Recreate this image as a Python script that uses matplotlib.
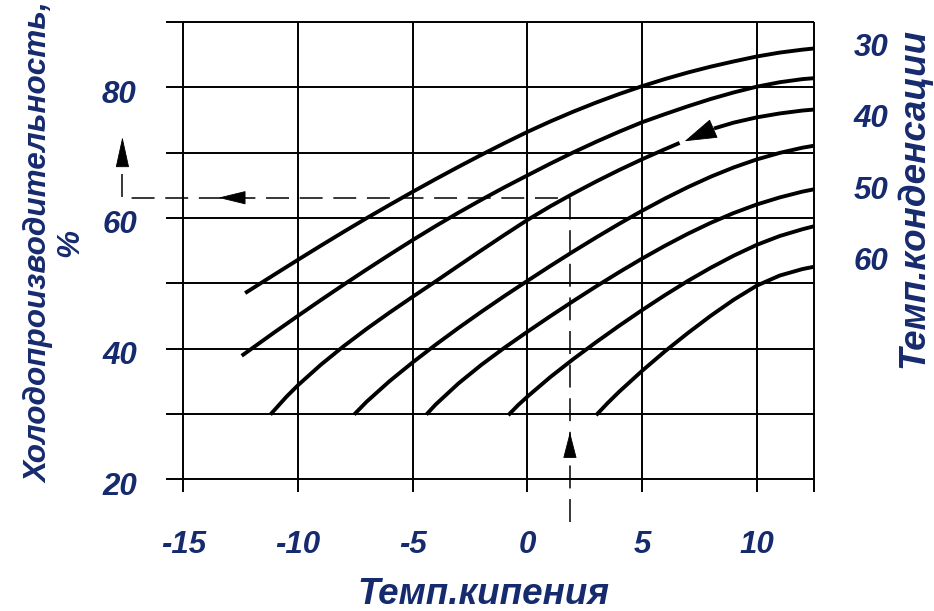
import numpy as np
import matplotlib
matplotlib.use("Agg")
import matplotlib.pyplot as plt
from matplotlib.patches import FancyArrowPatch, ArrowStyle
from matplotlib.transforms import blended_transform_factory, ScaledTranslation

# ---------------- data ----------------
evap_ticks = [-15, -10, -5, 0, 5, 10]          # Темп.кипения
capacity_ticks = [20, 40, 60, 80]              # Холодопроизводительность, %
grid_y = [20, 30, 40, 50, 60, 70, 80, 90]
grid_x = [-15, -10, -5, 0, 5, 10, 12.5]
cond_labels = ["30", "40", "50", "60"]         # Темп.конденсации
cond_label_y = [86.0, 75.2, 64.2, 53.3]

c30_x = [-12.3, -11, -10, -9, -8, -7, -6, -5, -4, -3, -2, -1, 0,
         1, 2, 3, 4, 5, 6, 7, 8, 9, 10, 11, 12, 12.5]
c30_y = [48.5, 51.39, 53.59, 55.76, 57.89, 59.98, 62.01, 64.0, 65.94, 67.83,
         69.67, 71.45, 73.17, 74.77, 76.27, 77.67, 78.97, 80.17, 81.27, 82.27,
         83.17, 83.97, 84.72, 85.32, 85.77, 85.95]

c35_x = [-12.45, -11, -10, -9, -8, -7, -6, -5, -4, -3, -2, -1, 0,
         1, 2, 3, 4, 5, 6, 7, 8, 9, 10, 11, 12, 12.5]
c35_y = [38.9, 42.55, 45.01, 47.43, 49.8, 52.12, 54.39, 56.61, 58.75, 60.81,
         62.79, 64.69, 66.51, 68.31, 70.03, 71.66, 73.2, 74.65, 75.9, 77.1,
         78.22, 79.22, 80.1, 80.78, 81.26, 81.4]

c40_x = [-11.2, -10.5, -10, -9, -8, -7, -6, -5, -4, -3, -2, -1, 0,
         1, 2, 3, 4, 5, 6, 6.64, 8.14, 9, 10, 11, 12, 12.5]
c40_y = [29.9, 32.63, 34.38, 37.53, 40.38, 43.03, 45.53, 47.93, 50.28, 52.68,
         55.06, 57.4, 59.68, 61.78, 63.73, 65.58, 67.33, 68.98, 70.53, 71.49,
         73.7, 74.6, 75.4, 76.0, 76.45, 76.6]

c45_x = [-7.55, -7, -6, -5, -4, -3, -2, -1, 0, 1, 2, 3, 4, 5, 6, 7, 8, 9,
         10, 11, 12, 12.5]
c45_y = [29.9, 31.88, 35.03, 37.88, 40.58, 43.16, 45.64, 48.04, 50.36, 52.64,
         54.86, 57.01, 59.09, 61.09, 62.97, 64.72, 66.32, 67.74, 68.96, 69.96,
         70.76, 71.06]

c50_x = [-4.4, -4, -3, -2, -1, 0, 1, 2, 3, 4, 5, 6, 7, 8, 9, 10, 11, 12, 12.5]
c50_y = [29.9, 31.42, 34.67, 37.52, 40.12, 42.57, 44.95, 47.27, 49.52, 51.69,
         53.77, 55.74, 57.58, 59.26, 60.76, 62.06, 63.14, 64.04, 64.39]

c55_x = [-0.83, -0.4, 0, 1, 2, 3, 4, 5, 6, 7, 8, 9, 10, 11, 12, 12.5]
c55_y = [29.8, 31.35, 32.63, 35.63, 38.38, 40.98, 43.48, 45.88, 48.18, 50.36,
         52.38, 54.23, 55.88, 57.23, 58.28, 58.73]

c60_x = [3.0, 3.5, 4, 5, 6, 7, 8, 9, 10, 11, 12, 12.5]
c60_y = [29.8, 31.65, 33.38, 36.58, 39.58, 42.38, 45.03, 47.48, 49.63, 51.18,
         52.18, 52.53]

# example reading (dashed path)
ex_evap = 1.86
ex_cap = 63.1
ex_start_y = 13.4
ex_left_x = -17.65
ex_corner_top = 67.6

# arrowheads (tail -> tip)
curve_arrow = ((8.14, 73.7), (6.86, 71.75))
arrow_up_bottom = ((1.86, 23.7), (1.86, 27.2))
arrow_left = ((-12.38, 63.1), (-13.47, 63.1))
arrow_up_left = ((-17.65, 68.1), (-17.65, 72.4))

NAVY = "#162a6e"
FONT = "Liberation Sans"
CURVE_LW = 2.8

# ---------------- figure ----------------
fig = plt.figure(figsize=(9.34, 6.11), dpi=100)
ax = fig.add_axes([166 / 934, (611 - 492.3) / 611, 648 / 934, 470.6 / 611])
ax.set_xlim(-15.75, 12.5)
ax.set_ylim(18, 90.05)
for s in ax.spines.values():
    s.set_visible(False)

# grid
ax.hlines(grid_y, -15.75, 12.5, color="black", lw=1.4, clip_on=False, zorder=1)
ax.vlines(grid_x, 18, 90, color="black", lw=1.4, clip_on=False, zorder=1)

# curves
curves = [(c30_x, c30_y), (c35_x, c35_y), (c45_x, c45_y),
          (c50_x, c50_y), (c55_x, c55_y), (c60_x, c60_y)]
for cx, cy in curves:
    ax.plot(cx, cy, color="black", lw=CURVE_LW, solid_capstyle="butt",
            solid_joinstyle="round", zorder=3, clip_on=False)

# 40 °C curve is interrupted by the arrow
c40x = np.array(c40_x)
c40y = np.array(c40_y)
left = c40x <= curve_arrow[1][0] - 0.2
right = c40x >= curve_arrow[0][0]
for m in (left, right):
    ax.plot(c40x[m], c40y[m], color="black", lw=CURVE_LW, solid_capstyle="butt",
            solid_joinstyle="round", zorder=3, clip_on=False)

# dashed example path
ax.plot([ex_evap, ex_evap, ex_left_x, ex_left_x],
        [ex_start_y, ex_cap, ex_cap, ex_corner_top],
        color="black", lw=1.1, linestyle=(0, (15, 7)), clip_on=False, zorder=4)


def head(tail, tip, hl, hw):
    p = FancyArrowPatch(tail, tip,
                        arrowstyle=ArrowStyle("-|>", head_length=hl, head_width=hw),
                        mutation_scale=1, color="black", lw=0.6,
                        shrinkA=0, shrinkB=0, clip_on=False, zorder=5)
    ax.add_patch(p)


head(*curve_arrow, hl=21.5, hw=6.7)
head(*arrow_up_bottom, hl=17, hw=4.4)
head(*arrow_left, hl=18, hw=4.4)
head(*arrow_up_left, hl=20, hw=4.4)

# ticks
tick_font = dict(family=FONT, weight="bold", style="italic", size=22.5, color=NAVY)
ax.set_xticks(evap_ticks)
ax.set_xticklabels([str(v) for v in evap_ticks], fontdict=tick_font)
ax.set_yticks(capacity_ticks)
ax.set_yticklabels([str(v) for v in capacity_ticks], fontdict=tick_font)
ax.tick_params(axis="x", length=0, pad=27)
ax.tick_params(axis="y", length=0, pad=21)
shift_down = ScaledTranslation(0, -4 / 100, fig.dpi_scale_trans)
for lab in ax.get_yticklabels():
    lab.set_transform(lab.get_transform() + shift_down)

# right-hand condensing temperature labels
tr = blended_transform_factory(ax.transAxes, ax.transData)
for lab, yv in zip(cond_labels, cond_label_y):
    ax.text(1.088, yv, lab, transform=tr, ha="center", va="center", **tick_font)

# axis titles
title_font = dict(family=FONT, weight="bold", style="italic", color=NAVY)
fig.text(483 / 934, 1 - 594 / 611, "Темп.кипения", ha="center", va="center",
         size=26.5, **title_font)
fig.text(914 / 934, 1 - 197.5 / 611, "Темп.конденсации", ha="center", va="center",
         rotation=90, size=26.5, **title_font)
fig.text(55 / 934, 1 - 243 / 611, "Холодопроизводительность,\n%", ha="center",
         va="center", rotation=90, multialignment="center", linespacing=1.05,
         size=22.7, **title_font)

fig.savefig("out.png", dpi=100)
